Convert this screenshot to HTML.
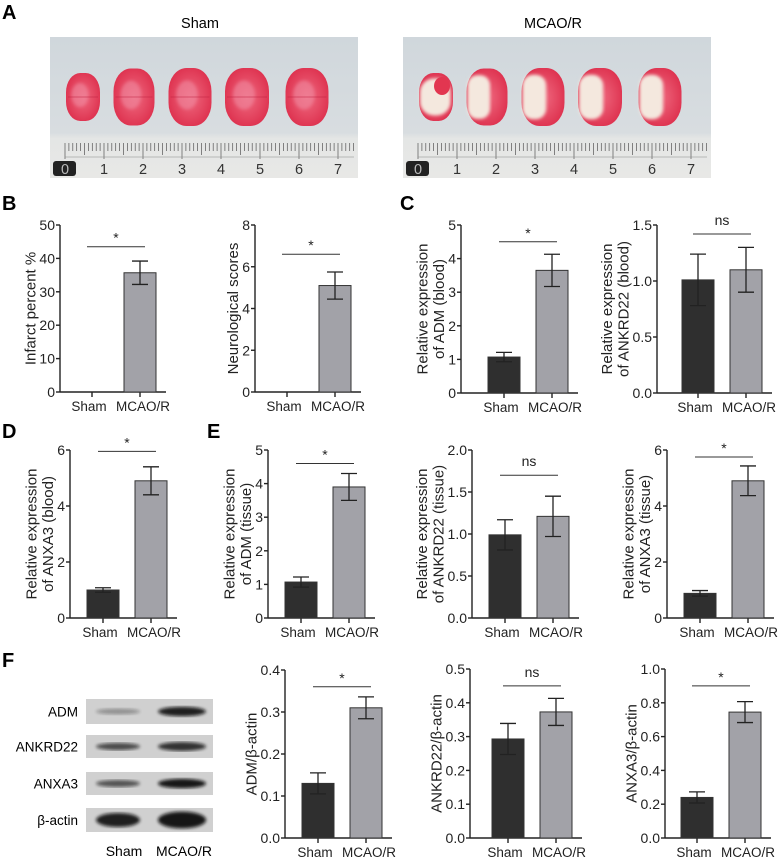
<!DOCTYPE html>
<html><head><meta charset="utf-8">
<style>
body{margin:0;background:#fff;width:783px;height:863px;overflow:hidden;font-family:"Liberation Sans",Arial,sans-serif}
svg{position:absolute;left:0;top:0}
</style></head>
<body>
<svg id="fig" width="783" height="863" viewBox="0 0 783 863" font-family="Liberation Sans, Arial, sans-serif">
<defs>
<linearGradient id="bg" x1="0" y1="0" x2="0" y2="1"><stop offset="0" stop-color="#d0d7dc"/><stop offset="0.68" stop-color="#d8dde0"/><stop offset="0.72" stop-color="#e4e6e5"/><stop offset="1" stop-color="#e8e8e6"/></linearGradient>
<radialGradient id="red" cx="0.5" cy="0.5" r="0.6"><stop offset="0" stop-color="#ef6a80"/><stop offset="1" stop-color="#dc2c4a"/></radialGradient>
<filter id="blur"><feGaussianBlur stdDeviation="1.6"/></filter>
</defs>
<g font-weight="bold" font-size="20">
<text x="2" y="19">A</text>
<text x="2" y="210">B</text>
<text x="400" y="210">C</text>
<text x="2" y="438">D</text>
<text x="207" y="438">E</text>
<text x="2" y="667">F</text>
</g>
<g id="photos"></g>
<g id="blot"></g>
<g id="charts"></g>
</svg>
<script>
const NS="http://www.w3.org/2000/svg";
function mk(tag,attrs,parent,txt){const e=document.createElementNS(NS,tag);for(const k in attrs)e.setAttribute(k,attrs[k]);if(txt!==undefined)e.textContent=txt;parent.appendChild(e);return e;}

// ---------- Panel A photos ----------
const photos=document.getElementById('photos');
const photoTitles=["Sham","MCAO/R"];
const photoX=[50,403];
const sliceCx=[83,134,190,247,307];
const sliceW=[34,41,43,44,43];
const sliceH=[48,57,58,58,58];
for(let p=0;p<2;p++){
  const ox=photoX[p]-50;
  const g=mk('g',{},photos);
  
  
  mk('text',{x:ox+200,y:28,'text-anchor':'middle','font-size':14.5},g,photoTitles[p]);
  mk('rect',{x:ox+50,y:37,width:308,height:141,fill:'url(#bg)'},g);
  for(let i=0;i<5;i++){
    const cx=ox+sliceCx[i],w=sliceW[i],h=sliceH[i];
    mk('rect',{x:cx-w/2,y:97-h/2,width:w,height:h,rx:w*0.42,ry:h*0.4,fill:'url(#red)'},g);
    if(p===0){
      mk('ellipse',{cx:cx-3,cy:95,rx:w/4,ry:h/4,fill:'#f08aa0',opacity:0.6,filter:'url(#blur)'},g);
      mk('line',{x1:cx-w/2+2,y1:97,x2:cx+w/2-2,y2:97,stroke:'#c02040','stroke-width':1,opacity:0.5},g);
    } else {
      const ww=w*(i===0?0.9:0.55);
      mk('rect',{x:cx-w/2+1,y:97-h/2.6,width:ww,height:h/1.3,rx:ww*0.45,fill:'#f4e8de',filter:'url(#blur)'},g);
      if(i===0) mk('ellipse',{cx:cx+6,cy:86,rx:8,ry:9,fill:'#e23650'},g);
    }
  }
  for(let t=0;t<=74;t++){
    const x=ox+65+t*3.9;
    const len=t%10===0?16:(t%5===0?12:8);
    mk('line',{x1:x,y1:143,x2:x,y2:143+len,stroke:'#555','stroke-width':0.7},g);
  }
  mk('line',{x1:ox+65,y1:157,x2:ox+354,y2:157,stroke:'#888','stroke-width':0.5},g);
  mk('rect',{x:ox+53,y:161,width:23,height:15,rx:3,fill:'#222'},g);
  for(let n=0;n<=7;n++){
    mk('text',{x:ox+65+n*39,y:174,'text-anchor':'middle','font-size':14.5,fill:n===0?'#bbb':'#333'},g,String(n));
  }
}

// ---------- Panel F blot ----------
const blot=document.getElementById('blot');
const blotLabels=["ADM","ANKRD22","ANXA3","β-actin"];
const blotY=[699,735,772,808];
const blotH=[25,23,23,24];
const bandSham=[0.35,0.75,0.7,1.0];
const bandMcao=[0.95,0.85,1.0,1.0];
for(let r=0;r<4;r++){
  const g=mk('g',{},blot);
  
  
  mk('text',{x:78,y:blotY[r]+blotH[r]/2+5,'text-anchor':'end','font-size':13.5},g,blotLabels[r]);
  mk('rect',{x:86,y:blotY[r],width:127,height:blotH[r],fill:'#d0d0d0'},g);
  const bh=r===3?14:8;
  mk('ellipse',{cx:118,cy:blotY[r]+blotH[r]/2,rx:22,ry:bh/2*(0.6+0.4*bandSham[r]),fill:'#111',opacity:bandSham[r]*0.9,filter:'url(#blur)'},g);
  mk('ellipse',{cx:182,cy:blotY[r]+blotH[r]/2,rx:24,ry:bh/2*(0.7+0.5*bandMcao[r]),fill:'#111',opacity:bandMcao[r]*0.95,filter:'url(#blur)'},g);
}
mk('text',{x:124,y:856,'text-anchor':'middle','font-size':14},blot,'Sham');
mk('text',{x:184,y:856,'text-anchor':'middle','font-size':14},blot,'MCAO/R');

// ---------- Bar chart data ----------
const groups=["Sham","MCAO/R"];
const b1Values=[0,35.7], b1Err=[0,3.5];
const b2Values=[0,5.1], b2Err=[0,0.65];
const c1Values=[1.07,3.65], c1Err=[0.14,0.48];
const c2Values=[1.01,1.10], c2Err=[0.23,0.20];
const dValues=[1.0,4.9], dErr=[0.08,0.5];
const e1Values=[1.07,3.9], e1Err=[0.15,0.4];
const e2Values=[0.99,1.21], e2Err=[0.18,0.24];
const e3Values=[0.88,4.9], e3Err=[0.1,0.53];
const f1Values=[0.13,0.31], f1Err=[0.025,0.026];
const f2Values=[0.293,0.373], f2Err=[0.046,0.04];
const f3Values=[0.24,0.745], f3Err=[0.033,0.062];
const b1Ticks=["0","10","20","30","40","50"];
const b2Ticks=["0","2","4","6","8"];
const c1Ticks=["0","1","2","3","4","5"];
const c2Ticks=["0.0","0.5","1.0","1.5"];
const dTicks=["0","2","4","6"];
const e1Ticks=["0","1","2","3","4","5"];
const e2Ticks=["0.0","0.5","1.0","1.5","2.0"];
const e3Ticks=["0","2","4","6"];
const f1Ticks=["0.0","0.1","0.2","0.3","0.4"];
const f2Ticks=["0.0","0.1","0.2","0.3","0.4","0.5"];
const f3Ticks=["0.0","0.2","0.4","0.6","0.8","1.0"];
const sigMarks=["*","*","*","ns","*","*","ns","*","*","ns","*"];
const sigLevels=[43.5,6.6,4.5,1.42,5.95,4.6,1.7,5.75,0.36,0.45,0.9];

const charts=[
 {n:'infarct-chart',v:b1Values,e:b1Err,t:b1Ticks,ax:60,top:225,bot:392,off:16,lab:["Infarct percent %"],sig:0},
 {n:'neuro-score-chart',v:b2Values,e:b2Err,t:b2Ticks,ax:255,top:225,bot:392,off:16,lab:["Neurological scores"],sig:1},
 {n:'adm-blood-chart',v:c1Values,e:c1Err,t:c1Ticks,ax:461,top:225,bot:393,off:27,lab:["Relative expression","of ADM (blood)"],sig:2},
 {n:'ankrd22-blood-chart',v:c2Values,e:c2Err,t:c2Ticks,ax:657,top:225,bot:393,off:25,lab:["Relative expression","of ANKRD22 (blood)"],sig:3},
 {n:'anxa3-blood-chart',v:dValues,e:dErr,t:dTicks,ax:70,top:450,bot:618,off:17,lab:["Relative expression","of ANXA3 (blood)"],sig:4},
 {n:'adm-tissue-chart',v:e1Values,e:e1Err,t:e1Ticks,ax:268,top:450,bot:618,off:17,lab:["Relative expression","of ADM (tissue)"],sig:5},
 {n:'ankrd22-tissue-chart',v:e2Values,e:e2Err,t:e2Ticks,ax:472,top:450,bot:618,off:17,lab:["Relative expression","of ANKRD22 (tissue)"],sig:6},
 {n:'anxa3-tissue-chart',v:e3Values,e:e3Err,t:e3Ticks,ax:667,top:450,bot:618,off:17,lab:["Relative expression","of ANXA3 (tissue)"],sig:7},
 {n:'adm-actin-chart',v:f1Values,e:f1Err,t:f1Ticks,ax:285,top:670,bot:838,off:17,lab:["ADM/β-actin"],sig:8},
 {n:'ankrd22-actin-chart',v:f2Values,e:f2Err,t:f2Ticks,ax:470,top:669,bot:838,off:22,lab:["ANKRD22/β-actin"],sig:9},
 {n:'anxa3-actin-chart',v:f3Values,e:f3Err,t:f3Ticks,ax:665,top:669,bot:838,off:16,lab:["ANXA3/β-actin"],sig:10}
];
const root=document.getElementById('charts');
const fills=['#2f2f2f','#a2a2a8'];
function tw(s){let w=0;for(const ch of s)w+=ch==='.'?3.9:7.8;return w;}
charts.forEach(c=>{
  const g=mk('g',{},root);
  
  
  const ymax=parseFloat(c.t[c.t.length-1]);
  const y=v=>c.bot-(v/ymax)*(c.bot-c.top);
  const bw=32,gap=16;
  const xL=i=>c.ax+c.off+i*(bw+gap);
  const xC=i=>xL(i)+bw/2;
  const xend=xL(1)+bw+10;
  mk('line',{x1:c.ax,y1:c.top,x2:c.ax,y2:c.bot,stroke:'#222','stroke-width':1.4},g);
  let maxW=0;
  c.t.forEach((tl)=>{
    const yy=y(parseFloat(tl));
    maxW=Math.max(maxW,tw(tl));
    mk('line',{x1:c.ax-4,y1:yy,x2:c.ax,y2:yy,stroke:'#222','stroke-width':1.4},g);
    const t=mk('text',{x:c.ax-5,y:yy+5,'text-anchor':'end','font-size':14,fill:'#222'},g,tl);
    
    
  });
  mk('line',{x1:c.ax,y1:c.bot,x2:xend,y2:c.bot,stroke:'#222','stroke-width':1.4},g);
  groups.forEach((gn,i)=>{
    mk('line',{x1:xC(i),y1:c.bot,x2:xC(i),y2:c.bot+5,stroke:'#222','stroke-width':1.4},g);
    const t=mk('text',{x:xC(i)+(i===0?-3:3),y:c.bot+19,'text-anchor':'middle','font-size':13.5,fill:'#222'},g,gn);
    
    
    const v=c.v[i],e=c.e[i];
    if(v>0){
      const r=mk('rect',{x:xL(i),y:y(v),width:bw,height:c.bot-y(v),fill:fills[i],stroke:'#333','stroke-width':1},g);
      
      
    }
    if(e>0){
      const eb=mk('path',{d:`M${xC(i)} ${y(v+e)}V${y(v-e)}M${xC(i)-8} ${y(v+e)}h16M${xC(i)-8} ${y(v-e)}h16`,stroke:'#222','stroke-width':1.3,fill:'none'},g);
      
      
    }
  });
  const sy=y(sigLevels[c.sig]);
  mk('line',{x1:xC(0)-5,y1:sy,x2:xC(1)+5,y2:sy,stroke:'#333','stroke-width':1},g);
  const s=sigMarks[c.sig];
  const st=mk('text',{x:(xC(0)+xC(1))/2,y:s==='*'?sy-4:sy-9,'text-anchor':'middle','font-size':14,fill:'#222'},g,s);
  
  
  const cy=(c.top+c.bot)/2;
  const n=c.lab.length;
  const base=c.ax-5-maxW-4;
  c.lab.forEach((l,k)=>{
    const lx=base-(n-1-k)*16.5;
    const t=mk('text',{x:lx,y:cy,'text-anchor':'middle','font-size':15,fill:'#222',transform:`rotate(-90 ${lx} ${cy})`},g,l);
    
    
  });
});
</script>
</body></html>
